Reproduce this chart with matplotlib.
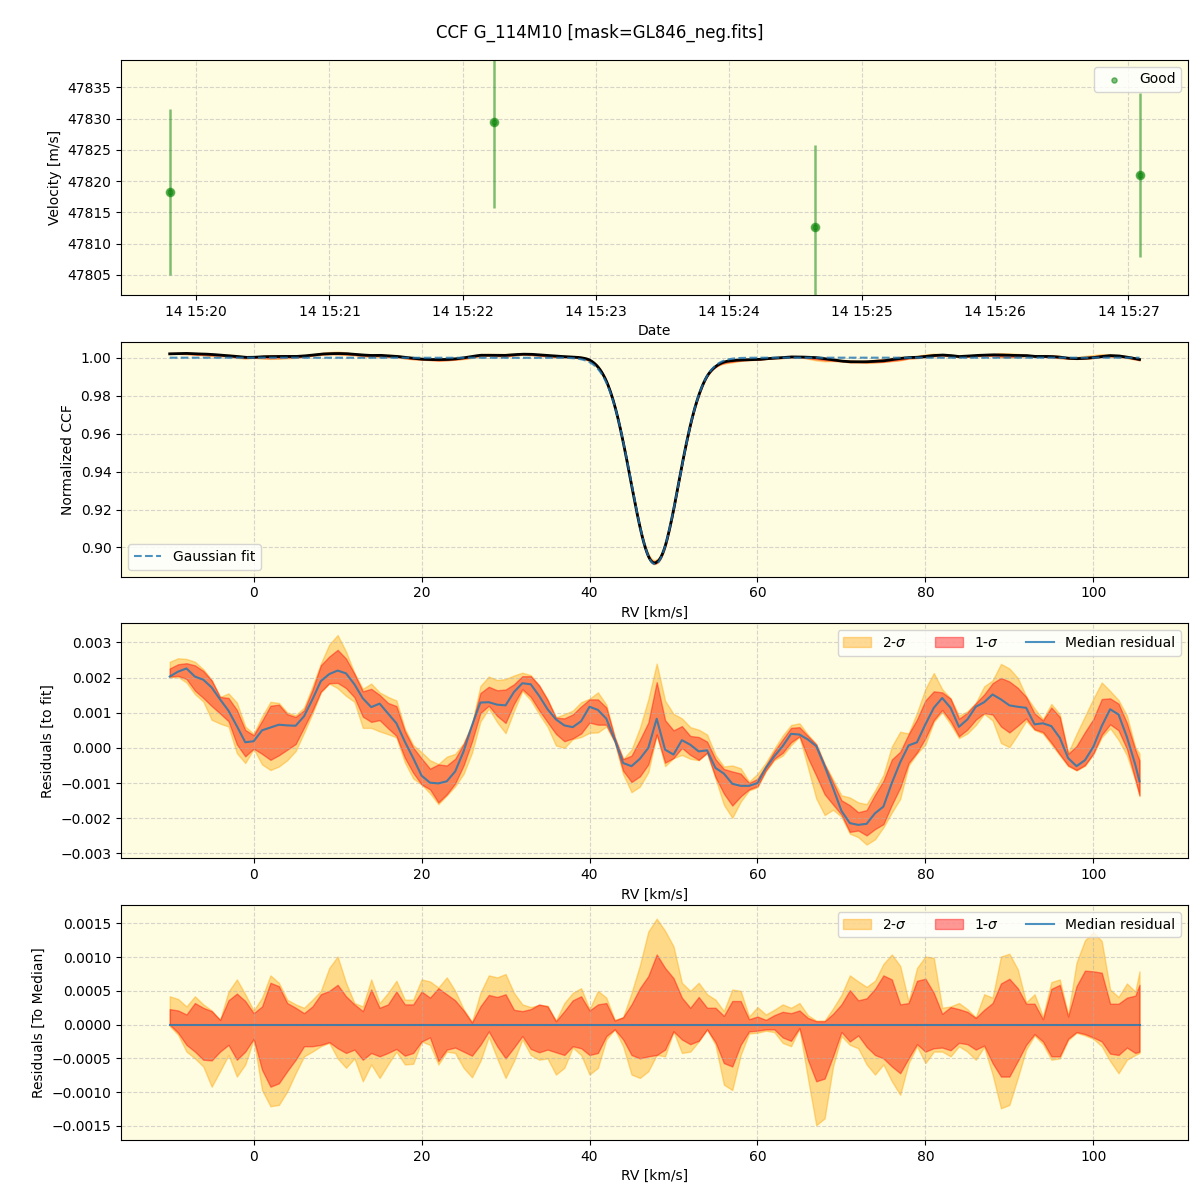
import numpy as np
import matplotlib
matplotlib.use("Agg")
import matplotlib.pyplot as plt
import matplotlib.dates as mdates
from datetime import datetime

# Velocity time series
obs_times = ["2019-06-14 15:19:48", "2019-06-14 15:22:14",
             "2019-06-14 15:24:39", "2019-06-14 15:27:05"]
velocity = [47818.3, 47829.5, 47812.7, 47821.0]
velocity_err = [13.3, 13.8, 13.1, 13.1]

# Gaussian fit parameters of the CCF
fit_continuum = 1.0
fit_depth = 0.1088
fit_center = 47.8
fit_sigma = 2.82

# RV grid (km/s)
rv = np.append(np.arange(-10, 106, 1.0), 105.5)

# Median residual to the fit (units of 1e-4)
median_res = [
    20.3, 21.7, 22.6, 20.3, 19.4, 17.2, 13.8, 10.6, 6.2, 1.6,
    1.9, 5.0, 5.8, 6.6, 6.4, 6.3, 9.0, 13.8, 19.0, 21.0,
    22.0, 21.2, 18.1, 14.1, 11.6, 12.6, 9.8, 7.0, 1.8, -2.9,
    -7.9, -9.9, -10.1, -9.5, -6.7, -1.0, 6.4, 12.9, 13.0, 12.3,
    12.1, 15.9, 18.4, 18.1, 14.8, 11.0, 8.1, 6.4, 5.9, 7.6,
    11.7, 10.8, 8.3, 2.4, -4.3, -5.2, -3.1, 0.0, 8.3, -0.5,
    -1.9, 2.2, 0.9, -1.0, -0.7, -5.7, -7.3, -10.2, -10.8, -10.8,
    -10.0, -5.7, -2.4, 0.5, 4.0, 3.8, 2.4, 0.5, -5.2, -11.4,
    -17.9, -21.4, -21.9, -21.6, -18.6, -16.7, -10.0, -4.1, 0.7, 1.6,
    6.7, 11.4, 14.2, 11.4, 6.0, 8.1, 11.7, 13.0, 15.2, 13.8,
    12.1, 11.7, 11.4, 6.7, 7.0, 6.2, 2.9, -2.9, -5.2, -3.5,
    0.3, 6.2, 11.0, 9.5, 3.1, -4.8, -9.5,
]

# Spread around the median (units of 1e-4)
up_2sig = [
    4.2, 3.8, 2.7, 4.2, 3.0, 2.1, 0.7, 4.9, 6.7, 4.5,
    2.1, 4.0, 7.3, 6.2, 3.7, 3.0, 2.5, 3.7, 5.0, 8.4,
    10.1, 6.2, 3.2, 2.7, 6.7, 3.2, 4.7, 6.5, 3.7, 3.7,
    6.7, 6.4, 5.5, 7.0, 5.0, 2.3, 0.4, 4.7, 7.3, 7.0,
    7.5, 4.7, 3.0, 2.6, 2.9, 2.8, 0.6, 3.2, 4.7, 5.4,
    2.3, 5.0, 4.0, 0.7, 1.1, 4.7, 8.8, 13.8, 15.7, 13.9,
    11.6, 6.2, 5.0, 6.2, 4.5, 3.7, 2.0, 5.2, 5.0, 1.2,
    2.6, 1.5, 2.2, 3.0, 2.5, 3.2, 1.4, 0.6, 0.6, 2.4,
    4.4, 7.3, 6.4, 5.6, 6.5, 9.0, 10.4, 8.7, 3.4, 8.4,
    10.1, 9.9, 2.5, 2.7, 3.2, 2.3, 1.1, 4.5, 4.0, 10.1,
    10.5, 8.2, 3.3, 4.5, 1.2, 6.3, 6.7, 1.5, 9.2, 12.5,
    13.7, 12.4, 5.2, 4.1, 6.1, 4.9, 7.9,
]
up_1sig = [
    2.3, 2.1, 1.5, 3.2, 2.5, 2.0, 0.7, 3.6, 4.6, 3.5,
    1.7, 2.7, 6.2, 5.7, 3.2, 2.5, 1.7, 2.7, 4.5, 5.0,
    5.9, 4.2, 3.0, 2.0, 5.2, 2.5, 3.0, 4.9, 3.0, 3.0,
    4.9, 4.0, 5.4, 4.5, 3.6, 2.1, 0.3, 2.7, 4.4, 4.1,
    4.5, 2.2, 2.0, 2.3, 3.0, 2.7, 0.5, 2.0, 3.6, 4.2,
    2.1, 3.0, 3.2, 0.6, 1.1, 3.0, 5.4, 7.2, 10.4, 8.4,
    6.9, 4.0, 2.5, 4.1, 2.5, 2.5, 1.3, 3.5, 3.5, 0.8,
    1.2, 0.7, 1.4, 1.9, 1.7, 2.1, 1.0, 0.5, 0.5, 1.6,
    3.0, 5.1, 3.6, 3.9, 5.3, 7.3, 6.7, 3.0, 3.2, 6.5,
    6.8, 4.7, 1.6, 2.6, 2.3, 1.9, 1.0, 2.2, 3.2, 6.1,
    6.8, 5.4, 3.1, 3.1, 0.8, 5.3, 5.9, 1.2, 5.7, 8.0,
    7.9, 7.7, 3.1, 3.1, 4.0, 4.3, 5.9,
]
lo_1sig = [
    0.0, -1.2, -3.0, -4.0, -5.2, -5.3, -4.0, -3.0, -5.2, -4.0,
    -2.1, -6.7, -9.2, -8.7, -6.9, -5.2, -3.2, -3.2, -3.0, -2.6,
    -3.5, -4.2, -3.7, -5.2, -4.2, -4.7, -4.2, -3.6, -4.6, -4.2,
    -2.5, -1.9, -5.4, -3.7, -3.4, -4.0, -4.6, -3.0, -1.0, -3.2,
    -5.0, -3.4, -1.7, -3.6, -4.1, -3.7, -4.1, -4.5, -3.2, -3.5,
    -4.5, -4.2, -1.7, -0.7, -2.2, -4.5, -5.0, -4.7, -4.5, -3.7,
    -1.0, -2.2, -2.9, -2.4, -0.7, -2.6, -5.7, -6.2, -3.0, -1.0,
    -0.9, -0.7, -0.7, -1.9, -2.4, -0.5, -5.2, -8.4, -8.0, -4.7,
    -1.1, -2.5, -1.6, -3.3, -4.5, -5.0, -6.2, -7.2, -5.0, -2.9,
    -4.0, -3.5, -3.4, -3.8, -2.7, -2.9, -3.7, -3.1, -5.7, -7.7,
    -7.7, -5.4, -3.0, -1.4, -2.5, -4.7, -4.7, -2.1, -1.1, -1.4,
    -1.9, -2.5, -4.3, -4.5, -3.4, -4.2, -4.0,
]
lo_2sig = [
    -0.2, -1.5, -4.0, -5.0, -6.2, -9.2, -6.9, -4.5, -7.7, -5.9,
    -2.2, -9.7, -12.1, -11.9, -9.9, -7.2, -4.7, -4.0, -3.2, -2.7,
    -5.0, -6.4, -5.0, -8.4, -5.9, -7.9, -5.9, -4.0, -5.9, -5.8,
    -2.5, -3.0, -5.9, -4.0, -4.2, -6.4, -7.8, -5.4, -1.8, -5.0,
    -7.9, -5.4, -2.2, -4.5, -5.2, -5.0, -7.4, -6.4, -3.4, -4.5,
    -7.4, -6.4, -2.2, -0.7, -3.2, -7.4, -7.9, -6.9, -4.5, -4.7,
    -1.0, -4.2, -4.0, -2.5, -0.7, -3.0, -8.9, -9.7, -4.5, -1.3,
    -1.2, -0.9, -1.1, -2.7, -3.2, -0.6, -7.9, -14.9, -13.9, -6.2,
    -1.7, -3.0, -3.5, -5.9, -7.4, -5.9, -8.4, -10.4, -5.7, -3.2,
    -5.7, -4.0, -4.0, -4.7, -3.2, -4.0, -5.2, -3.3, -7.4, -12.4,
    -11.9, -7.9, -3.7, -1.6, -2.9, -5.2, -5.0, -2.3, -1.2, -1.6,
    -2.1, -3.2, -5.4, -7.2, -5.2, -4.5, -4.2,
]

scale = 1e-4
med = np.array(median_res) * scale
u2 = np.array(up_2sig) * scale
u1 = np.array(up_1sig) * scale
l1 = np.array(lo_1sig) * scale
l2 = np.array(lo_2sig) * scale


def gauss_model(x):
    return fit_continuum - fit_depth * np.exp(-(x - fit_center) ** 2 / (2 * fit_sigma ** 2))


# model evaluated finely so the line profile is smooth; residuals drawn piecewise-linear
rv_fine = np.linspace(rv[0], rv[-1], 1200)
fit_fine = gauss_model(rv_fine)
ccf_fine = fit_fine + np.interp(rv_fine, rv, med)
band = {name: np.interp(rv_fine, rv, arr) for name, arr in
        [("l2", med + l2), ("u2", med + u2), ("l1", med + l1), ("u1", med + u1)]}

bg = "#fefce1"
fig, axes = plt.subplots(4, 1, figsize=(12, 12), dpi=100)
fig.subplots_adjust(left=0.101, right=0.99, top=0.95, bottom=0.05, hspace=0.2)
fig.suptitle("CCF G_114M10 [mask=GL846_neg.fits]", fontsize=12)

for ax in axes:
    ax.set_facecolor(bg)
    ax.grid(True, linestyle="--", alpha=0.5)

# Panel 1: velocities
ax = axes[0]
t = [datetime.strptime(s, "%Y-%m-%d %H:%M:%S") for s in obs_times]
ax.errorbar(t, velocity, yerr=velocity_err, fmt="o", color="green",
            alpha=0.5, ms=6, elinewidth=1.8, capsize=0)
ax.scatter(t, velocity, s=14, color="green", alpha=0.5, label="Good")
ax.set_ylim(47801.8, 47839.4)
ax.xaxis.set_major_locator(mdates.MinuteLocator())
ax.xaxis.set_major_formatter(mdates.DateFormatter("%d %H:%M"))
ax.set_xlabel("Date")
ax.set_ylabel("Velocity [m/s]")
ax.legend(loc="upper right")

# Panel 2: CCF and fit
ax = axes[1]
ax.fill_between(rv_fine, fit_fine + band["l2"], fit_fine + band["u2"], color="orange", alpha=0.4)
ax.fill_between(rv_fine, fit_fine + band["l1"], fit_fine + band["u1"], color="red", alpha=0.4)
ax.plot(rv_fine, ccf_fine, color="black", lw=2)
ax.plot(rv_fine, fit_fine, "--", color="C0", alpha=0.8, lw=1.5, label="Gaussian fit")
ax.set_ylim(0.8847, 1.0084)
ax.set_xlabel("RV [km/s]")
ax.set_ylabel("Normalized CCF")
ax.legend(loc="lower left")

# Panel 3: residuals to fit
ax = axes[2]
ax.fill_between(rv, med + l2, med + u2, color="orange", alpha=0.4, label="2-$\\sigma$")
ax.fill_between(rv, med + l1, med + u1, color="red", alpha=0.4, label="1-$\\sigma$")
ax.plot(rv, med, color="C0", alpha=0.8, lw=1.5, label="Median residual")
ax.set_ylim(-0.00314, 0.00354)
ax.set_xlabel("RV [km/s]")
ax.set_ylabel("Residuals [to fit]")
ax.legend(loc="upper right", ncol=3)

# Panel 4: residuals to median
ax = axes[3]
ax.fill_between(rv, l2, u2, color="orange", alpha=0.4, label="2-$\\sigma$")
ax.fill_between(rv, l1, u1, color="red", alpha=0.4, label="1-$\\sigma$")
ax.plot(rv, med - med, color="C0", alpha=0.8, lw=1.5, label="Median residual")
ax.set_ylim(-0.00171, 0.00177)
ax.set_xlabel("RV [km/s]")
ax.set_ylabel("Residuals [To Median]")
ax.legend(loc="upper right", ncol=3)

fig.savefig("out.png")
